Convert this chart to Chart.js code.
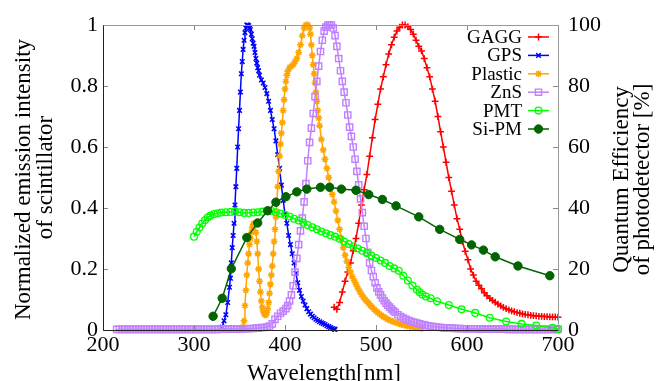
<!DOCTYPE html>
<html>
<head>
<meta charset="utf-8">
<script src="https://cdn.jsdelivr.net/npm/chart.js@4.4.1/dist/chart.umd.min.js"></script>
<style>
html,body{margin:0;padding:0;background:#fff;}
canvas{display:block;}
</style>
</head>
<body>
<canvas id="c" width="659" height="381"></canvas>
<script>
// ---- data (wavelength nm, value) ----
const seriesNames = ['GAGG', 'GPS', 'Plastic', 'ZnS', 'PMT', 'Si-PM'];
const xTicks = [200, 300, 400, 500, 600, 700];
const leftTicks = [0, 0.2, 0.4, 0.6, 0.8, 1];
const leftTickLabels = ['0', '0.2', '0.4', '0.6', '0.8', '1'];
const rightTicks = [0, 20, 40, 60, 80, 100];
const rightTickLabels = ['0', '20', '40', '60', '80', '100'];

const gagg = [[454,0.075],[457,0.068],[460,0.09],[463,0.125],[466,0.16],[469,0.19],[472,0.22],[475,0.26],[478,0.30],[481,0.35],[484,0.41],[487,0.46],[490,0.51],[493,0.57],[496,0.63],[499,0.69],[502,0.74],[505,0.79],[508,0.83],[511,0.87],[514,0.905],[517,0.935],[520,0.96],[523,0.98],[526,0.993],[529,1.0],[532,1.0],[535,0.995],[538,0.985],[541,0.97],[544,0.95],[547,0.93],[550,0.915],[553,0.89],[556,0.86],[559,0.83],[562,0.79],[565,0.75],[568,0.70],[571,0.65],[574,0.60],[577,0.55],[580,0.50],[583,0.455],[586,0.41],[589,0.365],[592,0.33],[595,0.29],[598,0.258],[601,0.23],[604,0.20],[607,0.18],[610,0.16],[613,0.147],[616,0.135],[619,0.122],[622,0.112],[625,0.104],[628,0.097],[631,0.091],[634,0.085],[637,0.079],[640,0.074],[643,0.07],[646,0.066],[649,0.063],[652,0.06],[655,0.057],[658,0.055],[661,0.053],[664,0.051],[667,0.05],[670,0.048],[673,0.047],[676,0.046],[679,0.045],[682,0.045],[685,0.044],[688,0.044],[691,0.043],[694,0.043],[697,0.043],[700,0.042]];

const gps = [[331,0.01],[333,0.03],[335,0.05],[337,0.09],[339,0.14],[340,0.17],[341,0.22],[342,0.27],[343,0.31],[344,0.35],[345,0.41],[346,0.47],[347,0.53],[348,0.6],[349,0.66],[350,0.72],[351,0.78],[352,0.84],[353,0.88],[354,0.92],[355,0.95],[356,0.975],[357,0.99],[358,1.0],[359,1.0],[360,0.998],[361,0.99],[362,0.985],[363,0.97],[364,0.955],[365,0.94],[366,0.93],[367,0.91],[368,0.89],[369,0.875],[370,0.86],[371,0.85],[372,0.835],[374,0.82],[376,0.81],[378,0.795],[380,0.775],[382,0.75],[384,0.72],[386,0.69],[388,0.66],[390,0.62],[392,0.575],[394,0.53],[396,0.475],[398,0.425],[400,0.38],[402,0.35],[404,0.31],[406,0.28],[408,0.25],[410,0.22],[412,0.185],[414,0.155],[416,0.13],[418,0.11],[420,0.095],[422,0.082],[424,0.07],[426,0.06],[428,0.052],[430,0.045],[432,0.04],[434,0.035],[436,0.031],[438,0.027],[440,0.024],[442,0.021],[444,0.018],[446,0.014],[448,0.011],[450,0.008],[452,0.005],[454,0.003],[455,0.002]];

const plastic = [[354,0.01],[355,0.03],[356,0.08],[357,0.13],[358,0.18],[359,0.22],[360,0.25],[361,0.28],[362,0.30],[363,0.32],[364,0.335],[365,0.345],[366,0.35],[367,0.345],[368,0.32],[369,0.29],[370,0.25],[371,0.2],[372,0.16],[373,0.125],[374,0.095],[375,0.075],[376,0.062],[377,0.055],[378,0.05],[379,0.05],[380,0.058],[381,0.07],[382,0.09],[383,0.12],[384,0.15],[385,0.18],[386,0.21],[387,0.25],[388,0.29],[389,0.33],[390,0.37],[391,0.42],[392,0.47],[393,0.52],[394,0.57],[395,0.61],[396,0.645],[397,0.68],[398,0.72],[399,0.755],[400,0.79],[401,0.815],[402,0.835],[403,0.848],[405,0.86],[407,0.865],[409,0.87],[411,0.88],[413,0.89],[415,0.91],[417,0.935],[419,0.965],[421,0.99],[423,1.0],[425,1.0],[427,0.99],[428,0.97],[429,0.935],[430,0.9],[431,0.87],[432,0.84],[433,0.81],[434,0.78],[435,0.75],[436,0.72],[437,0.695],[438,0.67],[440,0.625],[442,0.59],[444,0.56],[446,0.53],[448,0.5],[450,0.47],[452,0.445],[454,0.42],[456,0.39],[458,0.36],[460,0.33],[462,0.3],[464,0.27],[466,0.245],[468,0.225],[470,0.205],[472,0.19],[474,0.175],[476,0.162],[478,0.15],[480,0.138],[482,0.127],[484,0.117],[486,0.108],[488,0.1],[490,0.094],[492,0.087],[494,0.08],[496,0.074],[498,0.068],[500,0.062],[502,0.057],[504,0.052],[506,0.048],[508,0.044],[510,0.04],[513,0.035],[516,0.031],[519,0.027],[522,0.024],[525,0.021],[528,0.018],[531,0.016],[534,0.014],[537,0.012],[540,0.01],[543,0.008],[546,0.007],[550,0.005]];

const zns = [[215,0.002],[218,0.002],[221,0.002],[224,0.002],[227,0.002],[230,0.002],[233,0.002],[236,0.002],[239,0.002],[242,0.002],[245,0.002],[248,0.002],[251,0.002],[254,0.002],[257,0.002],[260,0.002],[263,0.002],[266,0.002],[269,0.002],[272,0.002],[275,0.002],[278,0.002],[281,0.002],[284,0.002],[287,0.002],[290,0.002],[293,0.002],[296,0.002],[299,0.002],[302,0.002],[305,0.002],[308,0.002],[311,0.002],[314,0.002],[317,0.002],[320,0.002],[323,0.002],[326,0.002],[329,0.003],[332,0.003],[335,0.003],[338,0.003],[341,0.003],[344,0.003],[347,0.003],[350,0.003],[353,0.004],[356,0.004],[359,0.004],[362,0.005],[365,0.005],[368,0.006],[371,0.006],[374,0.008],[377,0.008],[380,0.01],[383,0.013],[386,0.02],[389,0.035],[392,0.045],[395,0.055],[398,0.062],[401,0.07],[403,0.08],[405,0.095],[407,0.115],[409,0.145],[411,0.19],[413,0.235],[415,0.28],[417,0.325],[419,0.367],[421,0.42],[423,0.48],[425,0.555],[427,0.615],[429,0.662],[431,0.71],[433,0.765],[435,0.815],[437,0.865],[439,0.913],[441,0.95],[443,0.98],[445,0.993],[447,1.0],[449,1.0],[451,1.0],[453,0.99],[455,0.965],[457,0.93],[459,0.89],[461,0.85],[463,0.815],[465,0.78],[467,0.745],[469,0.705],[471,0.665],[473,0.635],[475,0.6],[477,0.56],[479,0.52],[481,0.476],[483,0.43],[485,0.385],[487,0.34],[489,0.3],[491,0.255],[493,0.22],[495,0.195],[497,0.175],[499,0.155],[501,0.138],[503,0.125],[505,0.115],[507,0.105],[509,0.096],[511,0.088],[513,0.081],[515,0.075],[517,0.069],[519,0.063],[521,0.058],[524,0.05],[527,0.044],[530,0.039],[533,0.035],[536,0.031],[539,0.028],[542,0.025],[545,0.023],[548,0.02],[551,0.018],[554,0.016],[557,0.014],[560,0.012],[563,0.011],[566,0.01],[569,0.009],[572,0.008],[575,0.007],[578,0.007],[581,0.006],[584,0.006],[587,0.005],[590,0.005],[593,0.005],[596,0.004],[599,0.004],[602,0.004],[605,0.004],[608,0.004],[611,0.004],[614,0.003],[617,0.003],[620,0.003],[623,0.003],[626,0.003],[629,0.003],[632,0.003],[635,0.003],[638,0.003],[641,0.003],[644,0.002],[647,0.002],[650,0.002],[653,0.002],[656,0.002],[659,0.002],[662,0.002],[665,0.002],[668,0.002],[671,0.002],[674,0.002],[677,0.002],[680,0.002],[683,0.002],[686,0.002],[689,0.002],[692,0.002],[695,0.002],[698,0.002],[700,0.002]];

// quantum efficiency, %
const pmt = [[300,30.6],[303,32.2],[306,33.6],[309,34.9],[312,36.0],[315,36.9],[318,37.5],[322,38.0],[326,38.3],[330,38.5],[335,38.6],[340,38.7],[345,38.8],[350,38.6],[355,38.4],[360,38.4],[365,38.5],[370,38.6],[375,38.8],[380,39.1],[385,39.0],[390,38.6],[395,38.2],[400,37.7],[405,37.2],[410,36.5],[415,35.9],[420,35.2],[425,34.4],[430,33.7],[435,33.0],[440,32.3],[445,31.7],[450,31.1],[455,30.6],[460,29.9],[465,29.0],[470,28.2],[475,27.4],[480,26.7],[485,26.0],[490,25.2],[495,24.4],[500,23.6],[505,22.8],[510,22.0],[515,21.0],[520,20.2],[525,19.4],[530,17.8],[535,16.2],[540,14.6],[545,13.2],[548,12.4],[551,11.6],[555,11.0],[560,10.4],[567,9.4],[580,8.2],[594,6.8],[609,5.6],[625,4.0],[643,2.8],[660,2.0],[676,1.5],[694,0.7],[700,0.3]];

const sipm = [[321,4.5],[331,10.4],[341,20.1],[358,30.3],[370,35.1],[381,39.1],[390,41.9],[401,43.7],[413,45.3],[424,46.2],[439,46.8],[449,46.8],[462,46.2],[478,45.8],[492,44.4],[507,42.8],[522,40.7],[547,37.1],[570,33.0],[592,29.7],[605,27.9],[618,26.2],[631,24.0],[656,21.0],[691,17.8]];

// ---- styling ----
const FONT = "'Liberation Serif', 'Times New Roman', serif";
Chart.defaults.font.family = FONT;
Chart.defaults.color = '#000';

const styles = [
  {data: gagg, color: '#ff0000', pointStyle: 'cross', radius: 3.4, pbw: 1.5, fill: 'rgba(0,0,0,0)', axis: 'y'},
  {data: gps, color: '#0000ff', pointStyle: 'crossRot', radius: 3.2, pbw: 1.5, fill: 'rgba(0,0,0,0)', axis: 'y'},
  {data: plastic, color: '#ffa500', pointStyle: 'star', radius: 3.4, pbw: 1.5, fill: 'rgba(0,0,0,0)', axis: 'y'},
  {data: zns, color: '#c080ff', pointStyle: 'rect', radius: 4.4, pbw: 1.4, fill: 'rgba(0,0,0,0)', axis: 'y'},
  {data: pmt, color: '#00ff00', pointStyle: 'circle', radius: 3.4, pbw: 1.3, fill: 'rgba(0,0,0,0)', axis: 'y2'},
  {data: sipm, color: '#006400', pointStyle: 'circle', radius: 4.2, pbw: 1, fill: '#006400', axis: 'y2'}
];

const datasets = styles.map((s, i) => ({
  label: seriesNames[i],
  data: s.data.map(p => ({x: p[0], y: p[1]})),
  yAxisID: s.axis,
  borderColor: s.color,
  backgroundColor: s.fill,
  borderWidth: 1.5,
  pointStyle: s.pointStyle,
  pointRadius: s.radius,
  pointBorderWidth: s.pbw,
  pointBorderColor: s.color,
  pointBackgroundColor: s.fill,
  tension: 0,
  fill: false,
  clip: false,
  order: styles.length - i
}));

function drawMarker(ctx, s, x, y) {
  if (Chart.helpers && Chart.helpers.drawPoint) {
    ctx.strokeStyle = s.color; ctx.fillStyle = s.fill; ctx.lineWidth = s.pbw;
    Chart.helpers.drawPoint(ctx, {pointStyle: s.pointStyle, radius: s.radius, borderWidth: s.pbw, rotation: 0}, x, y);
  }
}

const framePlugin = {
  id: 'frame',
  afterDatasetsDraw(chart) {
    const {ctx, chartArea: a, scales} = chart;
    ctx.save();
    ctx.lineWidth = 1;
    ctx.strokeStyle = '#888';
    ctx.beginPath();
    xTicks.forEach(v => {
      const x = Math.round(scales.x.getPixelForValue(v)) + 0.5;
      ctx.moveTo(x, a.top); ctx.lineTo(x, a.top + 5);
      ctx.moveTo(x, a.bottom); ctx.lineTo(x, a.bottom - 5);
    });
    leftTicks.forEach(v => {
      const y = Math.round(scales.y.getPixelForValue(v)) + 0.5;
      ctx.moveTo(a.left, y); ctx.lineTo(a.left + 5, y);
    });
    rightTicks.forEach(v => {
      const y = Math.round(scales.y2.getPixelForValue(v)) + 0.5;
      ctx.moveTo(a.right, y); ctx.lineTo(a.right - 5, y);
    });
    ctx.stroke();
    const L = Math.round(a.left) + 0.5, R = Math.round(a.right) + 0.5;
    const T = Math.round(a.top) + 0.5, B = Math.round(a.bottom) + 0.5;
    ctx.strokeStyle = '#999';
    ctx.beginPath();
    ctx.moveTo(L, T); ctx.lineTo(R, T); ctx.lineTo(R, B);
    ctx.stroke();
    ctx.strokeStyle = '#222';
    ctx.beginPath();
    ctx.moveTo(L, T); ctx.lineTo(L, B); ctx.lineTo(R, B);
    ctx.stroke();
    ctx.restore();
  },
  afterDraw(chart) {
    const {ctx, chartArea: a} = chart;
    ctx.save();
    // legend
    ctx.font = "19px " + FONT;
    ctx.textAlign = 'right';
    ctx.textBaseline = 'middle';
    styles.forEach((s, i) => {
      const y = a.top + 12 + i * 18.4;
      ctx.fillStyle = '#000';
      ctx.fillText(seriesNames[i], a.right - 36, y + 1);
      ctx.strokeStyle = s.color; ctx.lineWidth = 1.5;
      ctx.beginPath(); ctx.moveTo(a.right - 30, y); ctx.lineTo(a.right - 9, y); ctx.stroke();
      drawMarker(ctx, s, a.right - 19.5, y);
    });
    // axis titles
    ctx.fillStyle = '#000';
    ctx.font = "23px " + FONT;
    ctx.textAlign = 'center';
    ctx.textBaseline = 'alphabetic';
    ctx.fillText('Wavelength[nm]', 324, 380);
    const cy = (a.top + a.bottom) / 2;
    ctx.textBaseline = 'middle';
    const rot = (txt, x, y) => { ctx.save(); ctx.translate(x, y); ctx.rotate(-Math.PI / 2); ctx.fillText(txt, 0, 0); ctx.restore(); };
    rot('Normalized emission intensity', 24, cy + 2);
    rot('of scintillator', 46, cy);
    rot('Quantum Efficiency', 622, cy + 2);
    rot('of photodetector [%]', 643, cy + 2);
    ctx.restore();
  }
};

new Chart(document.getElementById('c'), {
  type: 'line',
  data: {datasets},
  options: {
    responsive: false,
    animation: false,
    devicePixelRatio: 1,
    layout: {padding: {top: 25, left: 0, right: 0, bottom: 0}},
    plugins: {legend: {display: false}, tooltip: {enabled: false}},
    scales: {
      x: {
        type: 'linear', position: 'bottom', min: 200, max: 700,
        afterBuildTicks: s => { s.ticks = xTicks.map(v => ({value: v})); },
        grid: {display: false, drawTicks: false},
        border: {display: false},
        ticks: {font: {size: 22}, color: '#000', padding: 2, maxRotation: 0, autoSkip: false,
                callback: v => String(v)},
        afterFit: s => { s.height = 51; }
      },
      y: {
        type: 'linear', position: 'left', min: 0, max: 1,
        afterBuildTicks: s => { s.ticks = leftTicks.map(v => ({value: v})); },
        grid: {display: false, drawTicks: false},
        border: {display: false},
        ticks: {font: {size: 22}, color: '#000', padding: 5, autoSkip: false,
                callback: (v) => leftTickLabels[leftTicks.indexOf(v)]},
        afterFit: s => { s.width = 103; }
      },
      y2: {
        type: 'linear', position: 'right', min: 0, max: 100,
        afterBuildTicks: s => { s.ticks = rightTicks.map(v => ({value: v})); },
        grid: {display: false, drawTicks: false},
        border: {display: false},
        ticks: {font: {size: 22}, color: '#000', padding: 10, autoSkip: false,
                callback: (v) => rightTickLabels[rightTicks.indexOf(v)]},
        afterFit: s => { s.width = 101; }
      }
    }
  },
  plugins: [framePlugin]
});
</script>
</body>
</html>
